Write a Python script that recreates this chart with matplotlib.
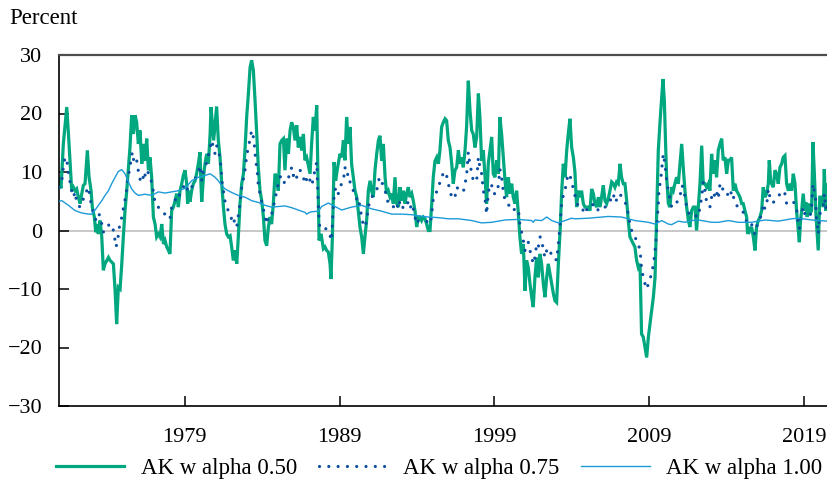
import matplotlib
matplotlib.use("Agg")
import matplotlib.pyplot as plt
from matplotlib.lines import Line2D

plt.rcParams['font.family'] = ['Liberation Serif', 'DejaVu Serif']

# ---------------- data ----------------
a50_t = [1970.90, 1971.03, 1971.18, 1971.40, 1971.51, 1971.61, 1971.72, 1971.83, 1971.94, 1972.04,
         1972.15, 1972.26, 1972.37, 1972.47, 1972.58, 1972.73, 1972.84, 1972.97, 1973.05, 1973.18,
         1973.27, 1973.33, 1973.44, 1973.55, 1973.66, 1973.76, 1973.87, 1974.09, 1974.19, 1974.41,
         1974.52, 1974.62, 1974.73, 1974.84, 1974.95, 1975.05, 1975.16, 1975.27, 1975.38, 1975.48,
         1975.59, 1975.70, 1975.81, 1975.91, 1976.02, 1976.13, 1976.24, 1976.34, 1976.45, 1976.56,
         1976.67, 1976.77, 1976.88, 1976.99, 1977.10, 1977.20, 1977.31, 1977.42, 1977.53, 1977.64,
         1977.74, 1977.85, 1977.96, 1978.06, 1978.17, 1978.28, 1978.39, 1978.49, 1978.60, 1978.71,
         1978.82, 1978.92,
         1979.03, 1979.14, 1979.20, 1979.29, 1979.35, 1979.46, 1979.57, 1979.68, 1979.78, 1979.89,
         1980.00, 1980.06, 1980.11, 1980.22, 1980.32, 1980.43, 1980.54, 1980.65, 1980.71, 1980.88,
         1981.07, 1981.18, 1981.29, 1981.40, 1981.51, 1981.61, 1981.72, 1981.83, 1981.94, 1982.04,
         1982.15, 1982.26, 1982.37, 1982.47, 1982.58, 1982.69, 1982.80, 1982.90, 1983.01, 1983.12,
         1983.23, 1983.33, 1983.44, 1983.55, 1983.66, 1983.76, 1983.87, 1983.98, 1984.09, 1984.19,
         1984.30, 1984.41, 1984.52, 1984.62, 1984.73, 1984.84, 1984.95, 1985.05, 1985.16, 1985.27,
         1985.38, 1985.48, 1985.59, 1985.70, 1985.81, 1985.91, 1986.02, 1986.13, 1986.24, 1986.34,
         1986.45, 1986.56, 1986.67, 1986.77, 1986.88, 1986.99, 1987.10, 1987.20, 1987.31, 1987.42,
         1987.53,
         1987.68, 1987.81, 1987.96, 1988.06, 1988.17, 1988.28, 1988.39, 1988.45, 1988.54, 1988.65,
         1988.75, 1988.86, 1989.03, 1989.14, 1989.25, 1989.35, 1989.46, 1989.57, 1989.68, 1989.78,
         1989.89, 1990.00, 1990.11, 1990.21, 1990.32, 1990.43, 1990.54, 1990.64, 1990.75, 1990.86,
         1990.97, 1991.07, 1991.18, 1991.29, 1991.40, 1991.51, 1991.61, 1991.72, 1991.83, 1991.94,
         1992.04, 1992.15, 1992.26, 1992.37, 1992.47, 1992.58, 1992.69, 1992.80, 1992.90, 1993.01,
         1993.12, 1993.23, 1993.33, 1993.44, 1993.55, 1993.66, 1993.76, 1993.87, 1993.98, 1994.09,
         1994.19, 1994.30, 1994.41, 1994.52, 1994.62, 1994.73, 1994.84, 1994.95, 1995.05, 1995.16,
         1995.27, 1995.38, 1995.48, 1995.59, 1995.70,
         1995.81, 1995.91, 1996.02, 1996.13, 1996.24, 1996.34, 1996.45, 1996.56, 1996.67, 1996.77,
         1996.88, 1996.99, 1997.10, 1997.20, 1997.31, 1997.42, 1997.53, 1997.63, 1997.74, 1997.85,
         1997.96, 1998.06, 1998.17, 1998.28, 1998.39, 1998.49, 1998.60, 1998.71, 1998.82, 1998.92,
         1999.03, 1999.14, 1999.25, 1999.35, 1999.46, 1999.57, 1999.68, 1999.78, 1999.89, 2000.00,
         2000.11, 2000.21, 2000.32, 2000.43, 2000.54, 2000.64, 2000.75, 2000.86, 2000.97, 2001.07,
         2001.18, 2001.29, 2001.40, 2001.50, 2001.61, 2001.72, 2001.83, 2001.94, 2002.04, 2002.15,
         2002.26, 2002.37, 2002.47, 2002.58, 2002.69, 2002.80, 2002.90, 2003.01, 2003.12, 2003.23,
         2003.33, 2003.44, 2003.55, 2003.66, 2003.76, 2003.87, 2003.98, 2004.09,
         2004.19, 2004.30, 2004.41, 2004.52, 2004.62, 2004.73, 2004.84, 2004.95, 2005.05, 2005.16,
         2005.27, 2005.38, 2005.48, 2005.59, 2005.70, 2005.81, 2005.91, 2006.02, 2006.13, 2006.24,
         2006.34, 2006.45, 2006.56, 2006.67, 2006.77, 2006.88, 2006.99, 2007.10, 2007.20, 2007.31,
         2007.42, 2007.53, 2007.63, 2007.74, 2007.85, 2007.96, 2008.06, 2008.17, 2008.28, 2008.39,
         2008.49, 2008.60, 2008.71, 2008.82, 2008.93, 2009.03, 2009.14, 2009.25, 2009.36, 2009.46,
         2009.57, 2009.68, 2009.79, 2009.87, 2009.96, 2010.04, 2010.11, 2010.22, 2010.32, 2010.43,
         2010.54, 2010.64, 2010.75, 2010.86, 2010.97, 2011.08, 2011.18, 2011.29, 2011.40, 2011.51,
         2011.61, 2011.72, 2011.83, 2011.94, 2012.04, 2012.15, 2012.26, 2012.37, 2012.47,
         2012.58, 2012.69, 2012.80, 2012.90, 2013.01, 2013.12, 2013.23, 2013.33, 2013.44, 2013.55,
         2013.66, 2013.76, 2013.87, 2013.98, 2014.09, 2014.19, 2014.30, 2014.41, 2014.52, 2014.62,
         2014.73, 2014.84, 2014.95, 2015.05, 2015.16, 2015.27, 2015.33, 2015.42, 2015.48, 2015.59,
         2015.70, 2015.81, 2015.91, 2016.02, 2016.13, 2016.24, 2016.34, 2016.45, 2016.56, 2016.67,
         2016.73, 2016.82, 2016.88, 2016.99, 2017.10, 2017.20, 2017.31, 2017.42, 2017.53, 2017.63,
         2017.74, 2017.85, 2017.96, 2018.07, 2018.17, 2018.28, 2018.39, 2018.49, 2018.60, 2018.67,
         2018.75, 2018.82, 2018.92, 2019.03, 2019.10, 2019.18, 2019.25, 2019.35, 2019.46, 2019.55,
         2019.64, 2019.74, 2019.83, 2019.89, 2019.99, 2020.10, 2020.22, 2020.28, 2020.37, 2020.45,
         2020.52]
a50_v = [8.8, 7.2, 14.8, 21.1, 16.5, 11.8, 6.8, 7.4, 6.8, 7.1,
         5.7, 4.6, 6.3, 7.7, 8.0, 13.7, 9.1, 6.8, 4.0, 2.3,
         -0.3, 1.1, -0.6, 1.7, -1.1, -6.8, -5.7, -4.6, -5.1, -5.7,
         -10.3, -16.0, -9.7, -10.0, -5.7, -1.1, 3.4, 6.8, 10.8, 14.2,
         19.7, 16.5, 19.7, 18.5, 14.8, 17.1, 11.4, 14.8, 11.9, 15.7,
         10.3, 12.5, 9.1, 2.3, 1.1, -1.1, -0.6, -1.1, 1.1, -2.3,
         -1.7, -2.8, -3.4, -4.0, 3.4, 4.0, 5.1, 6.3, 4.0, 6.8,
         8.0, 9.4,
         10.3, 8.0, 4.6, 6.8, 4.9, 6.8, 8.0, 8.5, 9.7, 11.4,
         13.4, 8.0, 4.9, 9.1, 11.4, 13.1, 11.4, 16.5, 21.1, 15.4,
         21.2, 15.4, 12.5, 8.0, 4.0, 1.1, -0.6, -1.1, -0.9, -2.8,
         -5.1, -3.4, -5.7, -1.1, 4.6, 8.0, 9.7, 13.7, 19.4, 23.4,
         27.9, 29.1, 27.4, 22.2, 16.5, 10.8, 6.8, 5.1, 2.3, -1.7,
         -2.6, 0.6, 2.3, 1.1, 4.6, 9.7, 9.1, 6.8, 14.8, 15.4,
         15.7, 10.3, 15.7, 13.1, 17.1, 18.5, 17.7, 15.4, 18.0, 14.2,
         16.0, 13.7, 16.5, 12.0, 12.5, 11.1, 9.7, 14.8, 19.4, 17.1,
         21.4,
         -1.7, -0.6, -3.1, -2.8, -3.4, -3.7, -5.7, -8.3, -1.1, 11.7,
         8.5, 10.5, 13.1, 12.5, 15.4, 12.0, 19.4, 14.8, 17.7, 11.4,
         9.1, 6.8, 5.7, 3.4, 0.6, -1.1, -4.0, -1.1, 1.7, 6.8,
         8.5, 6.8, 5.7, 10.3, 13.1, 15.4, 16.2, 11.9, 14.8, 9.1,
         6.3, 6.8, 5.7, 6.3, 4.6, 9.1, 4.6, 4.0, 7.4, 5.1,
         6.8, 4.6, 6.3, 7.4, 5.7, 6.3, 5.1, 3.4, 0.6, 2.3,
         2.3, 1.7, 2.3, 2.0, 1.1, 0.0, 0.0, 4.6, 9.1, 11.9,
         12.5, 11.4, 13.7, 17.7, 18.5,
         19.1, 18.8, 15.4, 14.2, 11.4, 8.0, 10.3, 10.8, 13.7, 11.4,
         12.5, 10.8, 13.7, 17.7, 25.6, 20.5, 17.1, 16.5, 14.2, 16.0,
         23.4, 19.4, 11.9, 13.7, 9.1, 4.6, 11.4, 13.7, 16.0, 9.7,
         9.1, 12.0, 9.7, 19.4, 16.5, 12.5, 8.5, 5.7, 9.1, 6.3,
         8.0, 5.7, 4.6, 6.8, 2.8, -1.1, -4.0, -2.3, -10.3, -5.1,
         -6.3, -9.1, -11.4, -13.1, -8.0, -4.6, -8.0, -4.0, -5.7, -9.1,
         -11.4, -8.0, -5.7, -7.4, -9.1, -10.8, -12.0, -12.3, -5.7, -0.3,
         6.3, 11.4, 9.1, 13.7, 16.5, 19.1, 14.2, 12.5,
         10.0, 4.0, 6.8, 5.7, 6.8, 4.6, 4.0, 4.0, 4.0, 3.4,
         7.1, 6.3, 4.6, 4.0, 5.7, 4.0, 5.7, 7.7, 5.1, 4.6,
         5.4, 6.8, 8.3, 8.0, 7.4, 8.3, 8.0, 11.4, 9.1, 8.0,
         8.0, 5.1, 1.7, -1.1, -1.7, -2.3, -2.8, -5.1, -6.3, -5.7,
         -17.7, -18.2, -19.9, -21.7, -18.2, -16.0, -13.7, -11.4, -8.0, 2.3,
         13.7, 18.5, 22.8, 25.9, 22.2, 14.8, 9.1, 4.6, 4.0, 7.4,
         6.8, 8.0, 9.1, 8.0, 11.4, 14.8, 10.8, 6.8, 4.0, 1.7,
         0.6, 3.4, 4.0, 4.0, 0.0, 4.0, 8.0, 14.5, 8.0,
         8.0, 7.4, 8.0, 6.8, 13.1, 9.7, 12.0, 9.1, 13.7, 14.8,
         15.7, 12.0, 12.5, 9.7, 12.0, 12.0, 12.5, 6.8, 8.0, 6.8,
         6.3, 5.7, 4.6, 4.6, 3.4, 2.3, -0.6, 0.6, 0.0, 0.6,
         -1.1, -3.4, 0.6, 1.7, 2.3, 3.4, 7.4, 5.7, 6.3, 8.0,
         12.0, 8.5, 8.0, 7.4, 10.3, 9.7, 8.0, 10.8, 11.4, 12.5,
         12.8, 8.0, 6.8, 8.0, 6.8, 9.7, 8.0, 3.4, 0.0, -2.0,
         1.7, 3.4, 6.3, 3.4, 4.8, 2.3, 4.6, 2.8, 3.4, 15.1,
         9.7, 2.8, -1.1, -3.4, 5.7, 5.7, 4.0, 10.5, 3.4, 8.0,
         5.7]

a75_t = [1970.90, 1971.08, 1971.18, 1971.29, 1971.40, 1971.51, 1971.61, 1971.72, 1971.83, 1971.94,
         1972.04, 1972.15, 1972.26, 1972.37, 1972.47, 1972.58, 1972.69, 1972.80, 1972.90, 1973.01,
         1973.12, 1973.23, 1973.33, 1973.44, 1973.55, 1973.66, 1973.76, 1973.87, 1974.09, 1974.30,
         1974.41, 1974.52, 1974.58, 1974.69, 1974.77, 1974.88, 1974.99, 1975.10, 1975.20, 1975.27,
         1975.33, 1975.42, 1975.55, 1975.63, 1975.72, 1975.81, 1975.91, 1975.98, 1976.06, 1976.19,
         1976.28, 1976.41, 1976.49, 1976.62, 1976.71, 1976.82, 1976.92, 1977.01, 1977.10, 1977.31,
         1977.53, 1977.74, 1977.96, 1978.06, 1978.17, 1978.28, 1978.39, 1978.49, 1978.60, 1978.82,
         1979.03, 1979.25, 1979.46, 1979.68, 1979.89, 1980.00, 1980.11, 1980.22, 1980.32, 1980.43,
         1980.54, 1980.65, 1980.75, 1980.86, 1980.97, 1981.07, 1981.18, 1981.29, 1981.35, 1981.42,
         1981.51, 1981.57, 1981.66, 1981.78, 1981.89, 1982.00, 1982.11, 1982.22, 1982.37, 1982.47,
         1982.58, 1982.69, 1982.80, 1982.90, 1983.01, 1983.12, 1983.23, 1983.33, 1983.44, 1983.51,
         1983.59, 1983.68, 1983.76, 1983.87, 1983.98, 1984.09, 1984.19, 1984.30, 1984.41, 1984.52,
         1984.62, 1984.73, 1984.84, 1984.95, 1985.05, 1985.16, 1985.27, 1985.38, 1985.48, 1985.59,
         1985.70, 1985.81, 1985.91, 1986.02, 1986.13, 1986.24, 1986.34, 1986.45, 1986.56, 1986.67,
         1986.77, 1986.88, 1986.99, 1987.20, 1987.31, 1987.42, 1987.53,
         1987.59, 1987.63, 1987.68, 1987.74, 1987.96, 1988.17, 1988.39, 1988.49, 1988.56, 1988.60,
         1988.67, 1988.82, 1988.92, 1989.03, 1989.14, 1989.25, 1989.35, 1989.46, 1989.57, 1989.68,
         1989.78, 1989.89, 1990.00, 1990.11, 1990.21, 1990.32, 1990.43, 1990.54, 1990.64, 1990.75,
         1990.86, 1990.97, 1991.07, 1991.18, 1991.29, 1991.40, 1991.51, 1991.61, 1991.72, 1991.83,
         1991.94, 1992.04, 1992.15, 1992.26, 1992.37, 1992.47, 1992.58, 1992.69, 1992.80, 1992.90,
         1993.01, 1993.12, 1993.23, 1993.33, 1993.44, 1993.55, 1993.66, 1993.76, 1993.87, 1993.98,
         1994.09, 1994.30, 1994.52, 1994.73, 1994.84, 1994.95, 1995.05, 1995.16, 1995.27, 1995.38,
         1995.48, 1995.59, 1995.70, 1995.81,
         1995.91, 1996.02, 1996.13, 1996.24, 1996.34, 1996.45, 1996.56, 1996.67, 1996.77, 1996.88,
         1996.99, 1997.10, 1997.20, 1997.31, 1997.42, 1997.53, 1997.63, 1997.74, 1997.85, 1997.96,
         1998.06, 1998.17, 1998.28, 1998.39, 1998.49, 1998.60, 1998.71, 1998.82, 1998.92, 1999.03,
         1999.14, 1999.25, 1999.35, 1999.46, 1999.57, 1999.68, 1999.78, 1999.89, 2000.00, 2000.11,
         2000.21, 2000.32, 2000.54, 2000.64, 2000.75, 2000.86, 2000.97, 2001.07, 2001.18, 2001.29,
         2001.40, 2001.50, 2001.61, 2001.72, 2001.83, 2001.94, 2002.04, 2002.15, 2002.26, 2002.37,
         2002.47, 2002.58, 2002.69, 2002.90, 2003.01, 2003.12, 2003.23, 2003.33, 2003.44, 2003.55,
         2003.66, 2003.76, 2003.87, 2003.98, 2004.09,
         2004.19, 2004.41, 2004.62, 2004.84, 2005.05, 2005.27, 2005.48, 2005.70, 2005.91, 2006.13,
         2006.34, 2006.56, 2006.67, 2006.77, 2006.99, 2007.10, 2007.20, 2007.42, 2007.53, 2007.63,
         2007.74, 2007.85, 2007.96, 2008.06, 2008.17, 2008.28, 2008.39, 2008.45, 2008.49, 2008.60,
         2008.71, 2008.82, 2008.93, 2009.03, 2009.14, 2009.25, 2009.31, 2009.36, 2009.42, 2009.46,
         2009.51, 2009.57, 2009.61, 2009.68, 2009.74, 2009.79, 2009.85, 2009.89, 2009.96, 2010.04,
         2010.11, 2010.22, 2010.32, 2010.43, 2010.54, 2010.64, 2010.75, 2010.86, 2010.97, 2011.08,
         2011.18, 2011.29, 2011.40, 2011.51, 2011.61, 2011.72, 2011.94, 2012.15, 2012.26, 2012.37,
         2012.47, 2012.58,
         2012.69, 2012.80, 2012.90, 2013.01, 2013.12, 2013.23, 2013.33, 2013.44, 2013.55, 2013.66,
         2013.76, 2013.87, 2013.98, 2014.09, 2014.19, 2014.30, 2014.41, 2014.52, 2014.62, 2014.73,
         2014.95, 2015.05, 2015.16, 2015.27, 2015.38, 2015.48, 2015.59, 2015.70, 2015.81, 2015.91,
         2016.02, 2016.13, 2016.24, 2016.34, 2016.45, 2016.56, 2016.67, 2016.77, 2016.88, 2016.99,
         2017.10, 2017.20, 2017.31, 2017.42, 2017.53, 2017.63, 2017.74, 2017.85, 2017.96, 2018.17,
         2018.39, 2018.49, 2018.60, 2018.67, 2018.75, 2018.82, 2018.92, 2019.03, 2019.25, 2019.35,
         2019.46, 2019.55, 2019.64, 2019.72, 2019.78, 2019.85, 2019.89, 2019.99, 2020.10, 2020.22,
         2020.28, 2020.37, 2020.45, 2020.52]
a75_v = [7.4, 8.5, 10.8, 12.5, 12.2, 9.7, 8.3, 6.8, 5.7, 6.6,
         4.8, 4.3, 4.0, 4.6, 5.4, 5.7, 6.8, 7.4, 5.7, 4.0,
         3.1, 2.0, 1.7, 2.8, 2.6, 1.1, -0.3, 0.6, 0.9, 1.1,
         0.0, -1.7, -2.8, -1.7, 0.3, 1.4, 2.8, 4.6, 5.7, 7.1,
         8.5, 10.0, 12.0, 13.4, 12.0, 11.4, 12.0, 11.1, 9.1, 8.5,
         9.4, 8.5, 10.3, 10.3, 9.1, 8.8, 7.7, 6.3, 4.6, 4.0,
         3.1, 2.8, 2.0, 2.0, 4.0, 4.6, 5.1, 6.0, 5.7, 6.8,
         8.0, 6.6, 7.4, 8.8, 10.0, 11.1, 8.5, 10.3, 10.8, 11.7,
         12.8, 14.2, 15.4, 14.2, 13.1, 14.5, 13.9, 12.2, 10.8, 8.3,
         6.8, 5.4, 4.6, 3.7, 2.8, 2.3, 1.1, 1.7, 0.6, 2.6,
         4.6, 7.4, 8.8, 10.3, 12.8, 14.2, 15.7, 17.1, 16.0, 14.5,
         12.0, 10.5, 7.7, 6.3, 4.8, 3.7, 2.3, 1.1, 2.6, 2.8,
         2.8, 4.0, 5.4, 6.8, 8.0, 9.1, 9.4, 8.5, 8.0, 8.5,
         9.1, 9.4, 10.8, 9.4, 10.0, 9.1, 9.1, 10.3, 10.0, 9.1,
         8.0, 8.8, 9.4, 7.7, 8.8, 10.5, 11.7,
         7.4, 4.6, 1.7, 0.3, 0.3, 0.3, -0.9, -1.7, 2.3, 4.0,
         6.8, 7.4, 6.3, 7.4, 8.0, 8.5, 10.8, 9.4, 9.7, 8.3,
         8.0, 6.8, 5.7, 5.4, 5.7, 4.0, 2.3, 0.9, 0.6, 1.7,
         4.0, 5.1, 5.7, 6.0, 6.3, 6.8, 8.5, 9.1, 8.5, 7.4,
         6.8, 5.7, 4.6, 4.3, 4.0, 4.0, 4.8, 4.6, 3.7, 5.1,
         4.6, 3.7, 4.3, 4.6, 4.8, 3.7, 4.6, 3.7, 2.3, 1.1,
         1.7, 1.7, 1.7, 1.4, 1.1, 2.8, 5.4, 6.3, 6.6, 7.1,
         8.3, 8.8, 10.0, 9.4,
         9.4, 8.0, 6.8, 5.7, 5.4, 5.7, 7.4, 7.1, 6.8, 6.6,
         6.6, 8.0, 9.4, 13.4, 11.1, 10.0, 8.5, 8.3, 8.5, 12.5,
         10.8, 9.7, 6.8, 5.4, 2.8, 6.3, 8.0, 7.7, 6.3, 6.3,
         6.3, 7.7, 10.5, 9.1, 6.6, 5.1, 4.8, 4.6, 3.7, 3.4,
         3.4, 3.7, 3.7, 0.9, -0.3, -1.7, -3.4, -3.1, -2.0, -3.4,
         -4.6, -5.7, -4.6, -2.3, -2.8, -1.1, -1.4, -3.4, -4.6, -3.4,
         -3.4, -3.1, -4.6, -4.8, -5.1, -2.3, 0.9, 4.6, 6.0, 6.8,
         8.5, 9.7, 9.4, 8.3, 7.1,
         6.0, 4.0, 4.0, 2.8, 4.3, 4.3, 4.6, 3.4, 4.0, 4.0,
         4.3, 5.7, 6.3, 4.8, 5.7, 6.3, 5.7, 4.8, 4.3, 2.8,
         1.1, 0.0, -0.6, -0.9, -2.0, -2.3, -3.4, -5.1, -6.6, -8.0,
         -9.1, -10.0, -9.1, -8.5, -7.1, -6.0, -4.6, -3.4, -1.7, -0.3,
         2.3, 4.6, 6.8, 8.0, 9.1, 10.5, 12.0, 13.1, 12.0, 10.3,
         8.5, 6.8, 5.4, 4.0, 4.0, 4.6, 4.8, 5.1, 5.7, 7.7,
         7.4, 5.7, 4.0, 3.1, 2.6, 2.8, 2.6, 2.3, 4.0, 5.7,
         8.3, 6.8,
         4.8, 4.6, 4.0, 5.7, 6.6, 5.7, 6.6, 5.4, 8.0, 8.0,
         6.6, 6.3, 6.0, 6.3, 5.7, 6.8, 5.7, 5.4, 4.3, 4.0,
         3.7, 3.1, 2.6, 1.4, 0.9, 0.9, 1.1, -0.3, -0.6, 0.6,
         1.4, 2.0, 2.8, 4.6, 3.7, 4.3, 7.1, 5.7, 5.7, 4.8,
         5.1, 5.4, 5.7, 6.3, 6.6, 6.8, 6.3, 4.6, 4.8, 5.1,
         4.6, 3.7, 1.4, 0.3, 1.7, 2.8, 4.0, 2.8, 2.6, 2.3,
         4.0, 8.0, 6.6, 5.4, 1.7, 0.6, -0.6, 2.8, 3.4, 4.0,
         6.3, 3.7, 4.8, 3.4]

a100_t = [1970.90, 1971.08, 1971.51, 1971.94, 1972.37, 1972.80, 1973.01, 1973.23, 1973.44, 1973.66,
          1973.87, 1974.09, 1974.30, 1974.52, 1974.73, 1974.95, 1975.16, 1975.38, 1975.59, 1975.81,
          1976.02, 1976.45, 1976.88, 1977.31, 1977.74, 1978.17, 1978.60, 1979.03, 1979.46, 1979.89,
          1980.32, 1980.65, 1980.97, 1981.18, 1981.40, 1981.61, 1982.04, 1982.47, 1982.90, 1983.33,
          1983.76, 1984.19, 1984.62, 1985.05, 1985.48, 1985.91, 1986.34, 1986.77, 1986.88, 1986.99,
          1987.20, 1987.63, 1987.85, 1988.28, 1988.71, 1989.14, 1989.78, 1990.43, 1991.07, 1991.72,
          1992.37, 1993.01, 1993.66, 1994.09, 1994.73, 1995.38, 1996.02, 1996.67, 1997.53, 1998.17,
          1998.82, 1999.68, 2000.54, 2001.40, 2001.50, 2001.61, 2002.04, 2002.37, 2002.69, 2003.12,
          2003.55, 2003.98, 2004.19, 2005.05, 2005.91, 2006.34, 2007.20, 2008.06, 2008.93, 2009.36,
          2009.79, 2010.22, 2010.43, 2010.86, 2011.29, 2011.72, 2012.15, 2012.58, 2013.01, 2013.44,
          2014.09, 2014.73, 2015.59, 2016.45, 2017.31, 2018.17, 2018.60, 2019.46, 2019.89, 2020.52]
a100_v = [5.0, 5.1, 4.3, 3.4, 3.0, 2.8, 2.8, 3.5, 4.3, 5.1,
          6.0, 6.8, 8.0, 9.1, 10.1, 10.4, 9.7, 8.3, 7.1, 6.4,
          6.0, 6.2, 6.0, 6.6, 6.4, 6.6, 6.8, 7.2, 8.5, 9.1,
          9.4, 9.7, 9.1, 8.5, 7.7, 7.1, 6.5, 6.0, 5.7, 5.1,
          4.8, 4.3, 4.0, 4.1, 4.2, 3.9, 3.5, 3.1, 2.8, 3.0,
          3.2, 3.3, 4.1, 4.7, 4.1, 3.5, 4.0, 4.3, 3.7, 3.3,
          2.8, 2.8, 2.7, 2.5, 2.3, 2.2, 2.0, 2.0, 1.7, 1.3,
          1.4, 1.8, 1.9, 1.7, 1.4, 1.8, 1.7, 2.3, 1.7, 1.3,
          1.7, 2.1, 2.0, 2.1, 2.3, 2.4, 2.3, 1.7, 1.4, 1.1,
          1.7, 1.1, 1.0, 1.6, 1.4, 1.7, 1.8, 1.6, 1.4, 1.4,
          1.7, 1.4, 1.4, 1.8, 1.6, 2.0, 2.1, 1.8, 1.7, 1.6]

year_ticks = [1979, 1989, 1999, 2009, 2019]
y_ticks = [-30, -20, -10, 0, 10, 20, 30]
labels = ["AK w alpha 0.50", "AK w alpha 0.75", "AK w alpha 1.00"]

# ---------------- styling ----------------
C50 = "#00a77f"
C75 = "#0c4fa0"
C100 = "#1d9ad8"
FS_TICK = 16
FS_TEXT = 16.5

fig = plt.figure(figsize=(8.28, 4.79), dpi=100)
ax = fig.add_axes([59 / 828, 1 - 406 / 479, (828 - 59) / 828, (406 - 55) / 479])

ax.axhline(0, color="#c4c4c4", lw=1.3, zorder=1)
ax.plot(a50_t, a50_v, color=C50, lw=2.3, zorder=2, solid_joinstyle="miter")
ax.plot(a75_t, a75_v, color=C75, lw=2.3, zorder=3, linestyle=(0, (0.01, 2.9)),
        dash_capstyle="round")
ax.plot(a100_t, a100_v, color=C100, lw=1.0, zorder=4)

ax.set_xlim(1970.90, 2020.52)
ax.set_ylim(-30, 30)
ax.set_xticks(year_ticks)
ax.set_xticklabels([str(y) for y in year_ticks])
ax.set_yticks(y_ticks)
ax.set_yticklabels([str(v).replace("-", "\u2212") for v in y_ticks])
ax.tick_params(axis="both", direction="in", length=7, width=1.1, labelsize=FS_TICK,
               colors="black")
ax.tick_params(axis="y", pad=12)
ax.tick_params(axis="x", pad=16)

for side in ("left", "bottom"):
    ax.spines[side].set_color("black")
    ax.spines[side].set_linewidth(1.2)
ax.spines["top"].set_color("#4d4d4d")
ax.spines["top"].set_linewidth(1.6)
ax.spines["right"].set_visible(False)

fig.text(9 / 828, 1 - 19 / 479, "Percent", fontsize=FS_TEXT, ha="left", va="center")

handles = [Line2D([], [], color=C50, lw=2.3),
           Line2D([], [], color=C75, lw=2.3, linestyle=(0, (0.01, 2.9)), dash_capstyle="round"),
           Line2D([], [], color=C100, lw=1.0)]
fig.legend(handles, labels, loc="center", bbox_to_anchor=(439 / 828, 1 - 468 / 479),
           ncol=3, frameon=False, fontsize=FS_TEXT, handlelength=3.0, handletextpad=0.7,
           columnspacing=0.95, borderaxespad=0, borderpad=0)

fig.savefig("out.png", dpi=100)
